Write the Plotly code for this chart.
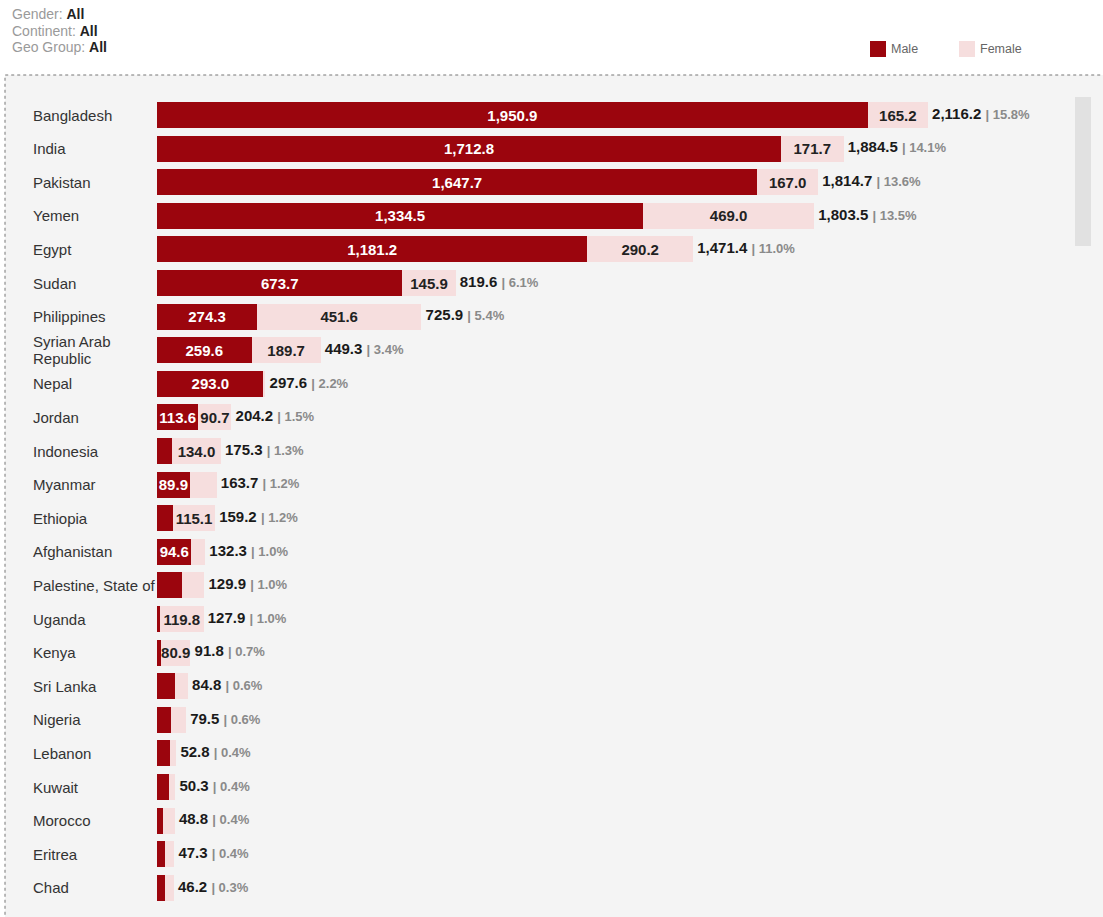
import plotly.graph_objects as go

countries = ["Bangladesh", "India", "Pakistan", "Yemen", "Egypt", "Sudan", "Philippines",
             "Syrian Arab Republic", "Nepal", "Jordan", "Indonesia", "Myanmar", "Ethiopia",
             "Afghanistan", "Palestine, State of", "Uganda", "Kenya", "Sri Lanka", "Nigeria",
             "Lebanon", "Kuwait", "Morocco", "Eritrea", "Chad"]
male = [1950.9, 1712.8, 1647.7, 1334.5, 1181.2, 673.7, 274.3, 259.6, 293.0, 113.6, 41.3, 89.9,
        44.1, 94.6, 68.6, 8.1, 10.9, 49.4, 37.6, 34.3, 31.6, 17.8, 22.0, 22.0]
female = [165.2, 171.7, 167.0, 469.0, 290.2, 145.9, 451.6, 189.7, 4.6, 90.7, 134.0, 73.8,
          115.1, 37.7, 61.3, 119.8, 80.9, 35.4, 41.9, 18.5, 18.7, 31.0, 25.3, 24.2]
totals = [2116.2, 1884.5, 1814.7, 1803.5, 1471.4, 819.6, 725.9, 449.3, 297.6, 204.2, 175.3, 163.7,
          159.2, 132.3, 129.9, 127.9, 91.8, 84.8, 79.5, 52.8, 50.3, 48.8, 47.3, 46.2]
shares = [15.8, 14.1, 13.6, 13.5, 11.0, 6.1, 5.4, 3.4, 2.2, 1.5, 1.3, 1.2, 1.2, 1.0, 1.0, 1.0,
          0.7, 0.6, 0.6, 0.4, 0.4, 0.4, 0.4, 0.3]
series_names = ["Male", "Female"]
filters = [("Gender:", "All"), ("Continent:", "All"), ("Geo Group:", "All")]

MALE_C = "#9B050D"
FEMALE_C = "#F6DEDE"
FONT = "Arial, Liberation Sans, sans-serif"
W, H = 1103, 917
MIN_LABEL = 78

def fmt(v):
    return f"{v:,.1f}"

male_text = [fmt(v) if v >= MIN_LABEL else "" for v in male]
female_text = [fmt(v) if v >= MIN_LABEL else "" for v in female]
total_text = [f"&nbsp;<b>{fmt(t)}</b> <span style='color:#8a8a8a;font-size:13px'><b>| {s:.1f}%</b></span>"
              for t, s in zip(totals, shares)]

fig = go.Figure()
fig.add_trace(go.Bar(
    y=countries, x=male, orientation="h", name=series_names[0],
    marker=dict(color=MALE_C, line=dict(width=0)),
    text=male_text, textposition="inside", insidetextanchor="middle",
    constraintext="none", textangle=0,
    textfont=dict(family=FONT, size=15, color="white", weight="bold"),
    hoverinfo="skip", showlegend=False))
fig.add_trace(go.Bar(
    y=countries, x=female, orientation="h", name=series_names[1],
    marker=dict(color=FEMALE_C, line=dict(width=0)),
    text=female_text, textposition="inside", insidetextanchor="middle",
    constraintext="none", textangle=0,
    textfont=dict(family=FONT, size=15, color="#222222", weight="bold"),
    hoverinfo="skip", showlegend=False))
fig.add_trace(go.Scatter(
    y=countries, x=totals, mode="text", text=total_text, textposition="middle right",
    textfont=dict(family=FONT, size=15, color="#1a1a1a"), showlegend=False, hoverinfo="skip"))

annotations = []
for c in countries:
    parts = ["Syrian Arab", "Republic"] if c == "Syrian Arab Republic" else [c]
    n = len(parts)
    for j, p in enumerate(parts):
        annotations.append(dict(x=31 / W, xref="paper", y=c, yref="y", text=p, showarrow=False,
                                xanchor="left", yanchor="middle", align="left",
                                yshift=(n - 1) * 8.5 - j * 17,
                                font=dict(family=FONT, size=15, color="#333333")))
for i, (k, v) in enumerate(filters):
    annotations.append(dict(x=10 / W, xref="paper", y=1 - (14 + 16.5 * i) / H, yref="paper",
                            text=f"<span style='color:#9a9a9a'>{k}</span> <b>{v}</b>",
                            showarrow=False, xanchor="left", yanchor="middle",
                            font=dict(family=FONT, size=14, color="#222222")))

shapes = [
    dict(type="rect", xref="paper", yref="paper", x0=5 / W, x1=1.01, y0=-0.01, y1=1 - 75 / H,
         fillcolor="#F4F4F4", line=dict(color="#777777", width=1, dash="dot"), layer="below"),
    dict(type="rect", xref="paper", yref="paper", x0=1075 / W, x1=1091 / W,
         y0=1 - 246 / H, y1=1 - 97 / H, fillcolor="#E1E1E1", line=dict(width=0), layer="below"),
]
# legend (custom, to match swatch size and spacing)
for name, col, lx in zip(series_names, [MALE_C, FEMALE_C], [870, 959]):
    shapes.append(dict(type="rect", xref="paper", yref="paper", x0=lx / W, x1=(lx + 16) / W,
                       y0=1 - 57 / H, y1=1 - 41 / H, fillcolor=col, line=dict(width=0)))
    annotations.append(dict(x=(lx + 19) / W, xref="paper", y=1 - 49 / H, yref="paper", text=name,
                            showarrow=False, xanchor="left", yanchor="middle",
                            font=dict(family=FONT, size=12.5, color="#666666")))

fig.update_layout(
    width=W, height=H, margin=dict(l=0, r=0, t=0, b=0), autosize=False,
    paper_bgcolor="white", plot_bgcolor="rgba(0,0,0,0)",
    barmode="stack", bargap=0.225,
    font=dict(family=FONT),
    xaxis=dict(domain=[157 / W, 1], range=[0, 946 / 0.3643], visible=False, fixedrange=True),
    yaxis=dict(type="category", range=[(H - 115) / 33.6, -115 / 33.6], visible=False,
               fixedrange=True),
    showlegend=False,
    annotations=annotations, shapes=shapes,
)

fig.write_html("out.html", config={"displayModeBar": False, "responsive": False},
               post_script="document.body.style.margin='0';document.body.style.overflow='hidden';")
